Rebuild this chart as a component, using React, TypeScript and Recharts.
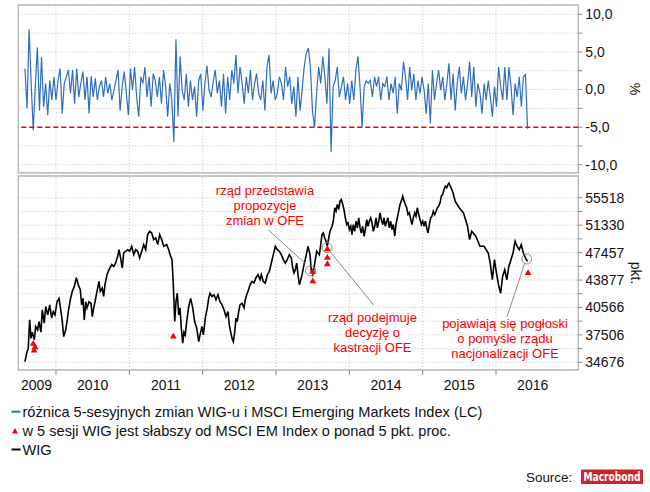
import {
  ComposedChart,
  Line,
  Scatter,
  XAxis,
  YAxis,
  CartesianGrid,
  ReferenceLine,
  ReferenceArea,
  ReferenceDot,
} from 'recharts';

// ---- time axis (decimal years) ----
const xDomain = [2009.486, 2017.122];
const yearBounds = [2010, 2011, 2012, 2013, 2014, 2015, 2016];
const yearLabelPos = [2009.734, 2010.5, 2011.5, 2012.5, 2013.5, 2014.5, 2015.5, 2016.5];
const yearLabels = ['2009', '2010', '2011', '2012', '2013', '2014', '2015', '2016'];

// ---- top panel: difference of 5-session changes WIG vs MSCI EM (%) ----
const diffStart = 2009.577;
const diffEnd = 2016.43;
const diffValues = [
  2.8, -2.5, 8.0, 0.8, -5.4, 0.5, 5.6, -2.8, 4.3, -2.3,
  0.8, -3.4, 1.2, -1.4, 1.7, -1.4, 1.2, 2.8, -3.2, 0.8,
  1.7, 2.6, -0.5, 2.6, -1.9, 2.8, -1.0, 0.8, 2.4, -1.4,
  1.7, -3.2, 1.8, -1.0, 1.5, -1.4, 0.4, 1.2, -1.0, 1.7,
  -0.5, 0.8, -1.4, -0.1, 1.2, 2.6, -2.8, 0.4, 2.4, -0.5,
  -3.4, 2.8, -0.1, 3.0, -1.0, -3.6, 1.7, 0.8, 3.0, -1.0,
  1.7, -2.3, 2.1, 1.2, -1.0, 1.7, -1.9, 2.6, 0.4, -3.6,
  0.8, -1.4, -7.0, 6.7, -3.6, 4.4, -0.1, -1.4, 2.1, -2.3,
  1.2, -1.4, 0.4, -3.6, 1.2, 2.1, -2.8, 0.8, 3.2, -0.1,
  -1.0, 1.0, 2.6, -0.5, 1.2, -2.3, 2.1, -3.2, 1.7, -1.4,
  2.6, 0.8, 4.6, -0.5, 3.0, 0.8, -1.9, 1.7, -0.5, 2.6,
  -1.4, 0.8, 2.1, -0.5, -1.4, 1.2, -2.8, 3.0, 4.6, -0.5,
  1.2, -1.4, -0.5, 1.7, 0.8, -1.4, 3.0, 0.4, 1.7, -1.9,
  0.4, -3.6, 1.7, -2.8, -0.1, 3.0, 4.8, 5.5, 3.0, -2.8,
  -5.0, -0.5, 3.0, 0.8, 4.4, 1.7, -1.9, 5.5, -8.3, 0.4,
  1.2, 3.0, -1.0, 0.4, 1.7, -1.4, 0.8, -1.9, 1.2, -1.4,
  2.6, 4.4, 0.4, -5.0, 0.4, 1.2, 0.8, 1.2, -1.0, 1.7,
  0.4, 1.7, -1.4, 0.8, 0.4, 1.7, -1.4, 0.8, -0.5, 1.7,
  -3.2, 0.8, -0.1, 3.7, 1.7, -1.4, 3.0, -0.1, 2.1, -1.4,
  1.2, -0.5, 1.7, -0.1, -3.2, 0.8, -4.5, 2.6, -1.4, 0.8,
  2.6, -0.1, 1.7, -1.4, 0.8, 3.5, -1.4, 2.1, -2.8, 0.8,
  3.0, -0.5, 1.7, -1.4, 0.8, 3.7, -1.0, 3.0, -2.3, 0.8,
  -0.5, -3.2, 0.8, -1.4, 1.2, -1.0, -3.6, 0.4, -2.3, 3.0,
  0.4, -1.4, 3.0, -1.4, 3.0, 0.4, -3.4, 0.8, -1.0, 1.7,
  -2.3, 1.7, 2.0, -5.2,
];
const diffTicks = [-10, -7.5, -5, -2.5, 0, 2.5, 5, 7.5, 10];
const diffDomain = [-11.06, 11.24];

// ---- bottom panel: WIG (log scale) ----
const wigDates = [
  2009.577, 2009.6, 2009.622, 2009.641, 2009.659, 2009.677, 2009.704, 2009.723, 2009.75, 2009.768,
  2009.795, 2009.813, 2009.84, 2009.86, 2009.887, 2009.914, 2009.941, 2009.963, 2009.986, 2010.014,
  2010.041, 2010.068, 2010.086, 2010.105, 2010.132, 2010.15, 2010.168, 2010.195, 2010.222, 2010.25,
  2010.277, 2010.304, 2010.331, 2010.35, 2010.368, 2010.386, 2010.405, 2010.423, 2010.45, 2010.477,
  2010.495, 2010.514, 2010.532, 2010.559, 2010.586, 2010.604, 2010.631, 2010.65, 2010.668, 2010.695,
  2010.723, 2010.76, 2010.787, 2010.814, 2010.841, 2010.859, 2010.877, 2010.904, 2010.923, 2010.95,
  2010.978, 2011.005, 2011.032, 2011.06, 2011.087, 2011.114, 2011.141, 2011.169, 2011.196, 2011.223,
  2011.25, 2011.278, 2011.305, 2011.332, 2011.36, 2011.387, 2011.414, 2011.441, 2011.469, 2011.51,
  2011.537, 2011.555, 2011.582, 2011.6, 2011.619, 2011.636, 2011.654, 2011.673, 2011.691, 2011.709,
  2011.728, 2011.745, 2011.763, 2011.782, 2011.81, 2011.837, 2011.864, 2011.891, 2011.919, 2011.946,
  2011.964, 2011.991, 2012.009, 2012.036, 2012.063, 2012.082, 2012.1, 2012.127, 2012.155, 2012.182,
  2012.209, 2012.236, 2012.264, 2012.291, 2012.318, 2012.345, 2012.363, 2012.382, 2012.4, 2012.418,
  2012.437, 2012.455, 2012.472, 2012.491, 2012.509, 2012.536, 2012.564, 2012.581, 2012.6, 2012.618,
  2012.646, 2012.673, 2012.7, 2012.727, 2012.755, 2012.782, 2012.8, 2012.827, 2012.854, 2012.882,
  2012.909, 2012.936, 2012.963, 2012.991, 2013.018, 2013.045, 2013.072, 2013.1, 2013.127, 2013.154,
  2013.182, 2013.209, 2013.228, 2013.246, 2013.263, 2013.282, 2013.3, 2013.318, 2013.327, 2013.355,
  2013.382, 2013.409, 2013.436, 2013.464, 2013.482, 2013.501, 2013.518, 2013.536, 2013.555, 2013.573,
  2013.591, 2013.61, 2013.627, 2013.645, 2013.664, 2013.682, 2013.7, 2013.719, 2013.736, 2013.764,
  2013.781, 2013.801, 2013.818, 2013.836, 2013.855, 2013.873, 2013.891, 2013.91, 2013.927, 2013.945,
  2013.964, 2013.982, 2014.0, 2014.019, 2014.036, 2014.054, 2014.073, 2014.091, 2014.109, 2014.128,
  2014.146, 2014.163, 2014.182, 2014.2, 2014.218, 2014.237, 2014.255, 2014.272, 2014.291, 2014.309,
  2014.327, 2014.346, 2014.364, 2014.382, 2014.401, 2014.418, 2014.436, 2014.455, 2014.473, 2014.491,
  2014.51, 2014.527, 2014.545, 2014.564, 2014.582, 2014.6, 2014.619, 2014.636, 2014.654, 2014.673,
  2014.691, 2014.709, 2014.728, 2014.746, 2014.763, 2014.782, 2014.8, 2014.818, 2014.837, 2014.855,
  2014.872, 2014.892, 2014.909, 2014.927, 2014.946, 2014.964, 2014.982, 2015.001, 2015.018, 2015.036,
  2015.055, 2015.073, 2015.091, 2015.11, 2015.127, 2015.145, 2015.164, 2015.182, 2015.2, 2015.219,
  2015.237, 2015.254, 2015.273, 2015.291, 2015.309, 2015.328, 2015.346, 2015.359, 2015.414, 2015.443,
  2015.498, 2015.556, 2015.612, 2015.64, 2015.668, 2015.725, 2015.781, 2015.837, 2015.894, 2015.921,
  2015.95, 2015.979, 2016.006, 2016.034, 2016.063, 2016.09, 2016.119, 2016.148, 2016.175, 2016.204,
  2016.232, 2016.26, 2016.288, 2016.317, 2016.344, 2016.373, 2016.401, 2016.43,
];
const wigValues = [
  34740, 35580, 36100, 39150, 37130, 37800, 36970, 38410, 38040, 38960,
  37800, 40290, 38780, 40680, 39710, 40870, 39340, 40090, 39710, 41230,
  41630, 40090, 38960, 37320, 38040, 38960, 40090, 41470, 42470, 43080,
  44170, 43290, 42670, 40870, 41630, 39150, 41230, 40520, 41230, 41050,
  39520, 40520, 41230, 42470, 43700, 42470, 42880, 41860, 43290, 44550,
  45190, 45850, 45620, 46060, 46950, 47860, 46950, 45410, 47410, 47640,
  47860, 47640, 48320, 47180, 47860, 47640, 46740, 47640, 48550, 47860,
  49970, 50440, 50200, 49260, 49490, 48550, 49970, 49260, 48320, 48550,
  47860, 47180, 46510, 43290, 38960, 41230, 42250, 39710, 40520, 38230,
  36620, 37800, 37500, 38960, 40680, 41630, 40520, 38960, 38230, 36780,
  37500, 38410, 37500, 39340, 40520, 41630, 42250, 41860, 42070, 41470,
  42070, 41230, 40870, 40290, 39520, 40090, 38590, 37800, 37130, 36780,
  37800, 39340, 38960, 40090, 40870, 41050, 40520, 41470, 42070, 42470,
  43290, 43700, 43500, 44170, 44550, 43910, 44550, 43700, 43500, 44550,
  44970, 46060, 47180, 48320, 47860, 47640, 47180, 46510, 46060, 46510,
  47180, 46740, 45410, 44770, 45190, 46060, 44550, 43290, 43500, 44550,
  45850, 46950, 48320, 47180, 44970, 44550, 45410, 46510, 47640, 47410,
  47180, 48550, 49970, 50200, 49490, 49030, 48320, 49490, 50440, 51170,
  51910, 53950, 53430, 54460, 53680, 54990, 55240, 54460, 53680, 52420,
  51420, 51670, 50690, 51170, 49970, 51420, 50440, 51910, 50930, 52420,
  50930, 50200, 51170, 49730, 50690, 52160, 51170, 51910, 52420, 51670,
  50440, 51170, 52420, 50930, 51910, 53170, 52160, 51420, 52420, 51170,
  51910, 52420, 50930, 51910, 50690, 51420, 49730, 51420, 52420, 53430,
  54460, 54990, 55770, 54990, 54460, 53950, 52920, 53170, 52160, 51420,
  52420, 53170, 52660, 53950, 52920, 52160, 51420, 51910, 51170, 51910,
  50930, 50200, 51420, 52420, 52660, 53430, 52920, 53430, 53950, 54200,
  54720, 55770, 56050, 56860, 57410, 57130, 57680, 57900, 56330, 54990,
  53950, 53170, 51170, 49260, 50440, 49730, 48320, 48320, 47410, 46060,
  43910, 46510, 44770, 43290, 42250, 44330, 45190, 43910, 45620, 46510,
  47410, 49030, 48320, 47860, 48550, 47410, 46740, 46290,
];
const wigMajorTicks = [34676, 37506, 40566, 43877, 47457, 51330, 55518];
const wigMinorTicks = [36063, 39006, 42189, 45632, 49356, 53382];
const wigDomain = [33918, 59086];

// sessions where WIG lagged MSCI EM by more than 5 pp
const signalDates = [2009.69, 2009.701, 2009.714, 2011.6, 2013.501, 2013.501, 2013.7, 2013.7, 2013.7, 2016.437];
const signalValues = [36620, 35920, 36270, 37390, 44970, 43790, 48000, 46840, 45980, 44840];

// annotated sessions (circles) and leader lines
const markDates = [2013.471, 2013.696, 2016.419];
const markValues = [45060, 48140, 46600];
const leaderFrom = [[2012.891, 50690], [2013.737, 47590], [2016.389, 45980]];
const leaderTo = [[2013.402, 45980], [2014.33, 40870], [2016.15, 39490]];

const diffData = diffValues.map((v, i) => ({
  t: diffStart + (i * (diffEnd - diffStart)) / (diffValues.length - 1),
  v,
}));
const wigData = wigDates.map((t, i) => ({ t, v: wigValues[i] }));
const signalData = signalDates.map((t, i) => ({ t, v: signalValues[i] }));

const BLUE = '#2f6dbd';
const RED = '#ff0000';
const GRID = '#c4c4c4';
const FRAME = '#b8b8b8';
const FONT = '"Liberation Sans", Arial, sans-serif';

const YearTick = (props: any) => {
  const { x, y, payload } = props;
  const idx = yearLabelPos.indexOf(payload.value);
  if (idx < 0) {
    return <line x1={x} x2={x} y1={y} y2={y + 5} stroke="#888" strokeWidth={1} />;
  }
  return (
    <text x={x} y={y + 20} textAnchor="middle" fontSize={14} fill="#111">
      {yearLabels[idx]}
    </text>
  );
};

const Triangle = (props: any) => {
  const { cx, cy } = props;
  return <polygon points={`${cx},${cy - 3.3} ${cx + 3.4},${cy + 2.6} ${cx - 3.4},${cy + 2.6}`} fill={RED} />;
};

function TopPanel() {
  return (
    <ComposedChart width={650} height={180} margin={{ top: 5, right: 11.7, bottom: 7.3, left: 18.3 }}>
      <CartesianGrid vertical={false} stroke={GRID} strokeDasharray="1 2" />
      <XAxis dataKey="t" type="number" domain={xDomain} allowDataOverflow hide />
      <YAxis
        orientation="right"
        type="number"
        dataKey="v"
        domain={diffDomain}
        allowDataOverflow
        ticks={diffTicks}
        interval={0}
        width={60}
        axisLine={false}
        tickSize={4}
        tickMargin={3}
        tickLine={{ stroke: '#888' }}
        tick={{ fontSize: 14, fill: '#111' }}
        tickFormatter={(v: number) => (v % 5 === 0 ? v.toFixed(1).replace('.', ',') : '')}
      />
      {yearBounds.map((y) => (
        <ReferenceLine key={y} x={y} stroke={GRID} strokeDasharray="1 2" />
      ))}
      <Line data={diffData} dataKey="v" stroke={BLUE} strokeWidth={1.2} dot={false} isAnimationActive={false} />
      <ReferenceLine y={-5} stroke={RED} strokeWidth={1.5} strokeDasharray="5 3" />
      <ReferenceArea x1={xDomain[0]} x2={xDomain[1]} y1={diffDomain[0]} y2={diffDomain[1]} fill="none" stroke={FRAME} strokeWidth={1.5} />
    </ComposedChart>
  );
}

function BottomPanel() {
  return (
    <ComposedChart width={650} height={400} margin={{ top: 176, right: 11.7, bottom: 0, left: 18.3 }}>
      <CartesianGrid vertical={false} stroke={GRID} strokeDasharray="1 2" />
      <XAxis
        dataKey="t"
        type="number"
        domain={xDomain}
        allowDataOverflow
        ticks={[...yearBounds, ...yearLabelPos]}
        interval={0}
        height={30}
        axisLine={false}
        tickLine={false}
        tickSize={0}
        tickMargin={0}
        tick={<YearTick />}
      />
      <YAxis
        orientation="right"
        type="number"
        dataKey="v"
        scale="log"
        domain={wigDomain}
        allowDataOverflow
        ticks={[...wigMajorTicks, ...wigMinorTicks].sort((a, b) => a - b)}
        interval={0}
        width={60}
        axisLine={false}
        tickSize={4}
        tickMargin={3}
        tickLine={{ stroke: '#888' }}
        tick={{ fontSize: 14, fill: '#111' }}
        tickFormatter={(v: number) => (wigMajorTicks.includes(v) ? String(v) : '')}
      />
      {yearBounds.map((y) => (
        <ReferenceLine key={y} x={y} stroke={GRID} strokeDasharray="1 2" />
      ))}
      <Line data={wigData} dataKey="v" stroke="#000" strokeWidth={1.6} dot={false} isAnimationActive={false} />
      {leaderFrom.map((p, i) => (
        <ReferenceLine
          key={i}
          segment={[{ x: p[0], y: p[1] }, { x: leaderTo[i][0], y: leaderTo[i][1] }]}
          stroke="#8a8a8a"
          strokeWidth={1}
        />
      ))}
      {markDates.map((t, i) => (
        <ReferenceDot key={i} x={t} y={markValues[i]} r={5} fill="none" stroke="#8a8a8a" strokeWidth={1} />
      ))}
      <Scatter data={signalData} dataKey="v" shape={<Triangle />} isAnimationActive={false} />
      <ReferenceArea x1={xDomain[0]} x2={xDomain[1]} y1={wigDomain[0]} y2={wigDomain[1]} fill="none" stroke={FRAME} strokeWidth={1.5} />
    </ComposedChart>
  );
}

const notes = [
  { x: 265, y: 194.5, lines: ['rząd przedstawia', 'propozycje', 'zmian w OFE'] },
  { x: 372.5, y: 321.5, lines: ['rząd podejmuje', 'decyzję o', 'kastracji OFE'] },
  { x: 505, y: 328, lines: ['pojawiają się pogłoski', 'o pomyśle rządu', 'nacjonalizacji OFE'] },
];

const legendItems = [
  { kind: 'line', color: BLUE, text: 'różnica 5-sesyjnych zmian WIG-u i MSCI Emerging Markets Index (LC)' },
  { kind: 'tri', color: RED, text: 'w 5 sesji WIG jest słabszy od MSCI EM Index o ponad 5 pkt. proc.' },
  { kind: 'line', color: '#000', text: 'WIG' },
];
const legendRows = [411.7, 431, 449.5];

export default function App() {
  return (
    <div style={{ position: 'absolute', left: 0, top: 0, width: 650, height: 492, background: '#fff', fontFamily: FONT, overflow: 'hidden' }}>
      <div style={{ position: 'absolute', left: 0, top: 0 }}>
        <TopPanel />
      </div>
      <div style={{ position: 'absolute', left: 0, top: 0 }}>
        <BottomPanel />
      </div>
      <svg width={650} height={492} style={{ position: 'absolute', left: 0, top: 0, pointerEvents: 'none' }} fontFamily={FONT}>
        <text transform="translate(630,89) rotate(90)" textAnchor="middle" fontSize={14} fill="#111">%</text>
        <text transform="translate(631,273) rotate(90)" textAnchor="middle" fontSize={14} fill="#111">pkt.</text>
        {notes.map((n, i) => (
          <text key={i} textAnchor="middle" fontSize={13} fill={RED}>
            {n.lines.map((l, j) => (
              <tspan key={j} x={n.x} y={n.y + j * 15}>{l}</tspan>
            ))}
          </text>
        ))}
        {legendItems.map((it, i) => (
          <g key={i}>
            {it.kind === 'line' ? (
              <line x1={11.5} x2={20.5} y1={legendRows[i]} y2={legendRows[i]} stroke={it.color} strokeWidth={2} />
            ) : (
              <polygon points={`15,${legendRows[i] - 3} 18,${legendRows[i] + 2.5} 12,${legendRows[i] + 2.5}`} fill={it.color} />
            )}
            <text x={22.5} y={legendRows[i] + 5} fontSize={14.6} fill="#111">{it.text}</text>
          </g>
        ))}
        <text x={526} y={481.5} fontSize={13.4} fill="#111">Source:</text>
        <rect x={581} y={469.5} width={62} height={14.5} rx={1} fill="#c8262b" />
        <text x={612} y={481} textAnchor="middle" fontSize={12} fontWeight="bold" fill="#fff" fontFamily='"DejaVu Sans Condensed", "Liberation Sans Narrow", sans-serif' textLength={57} lengthAdjust="spacingAndGlyphs">
          Macrobond
        </text>
      </svg>
    </div>
  );
}
